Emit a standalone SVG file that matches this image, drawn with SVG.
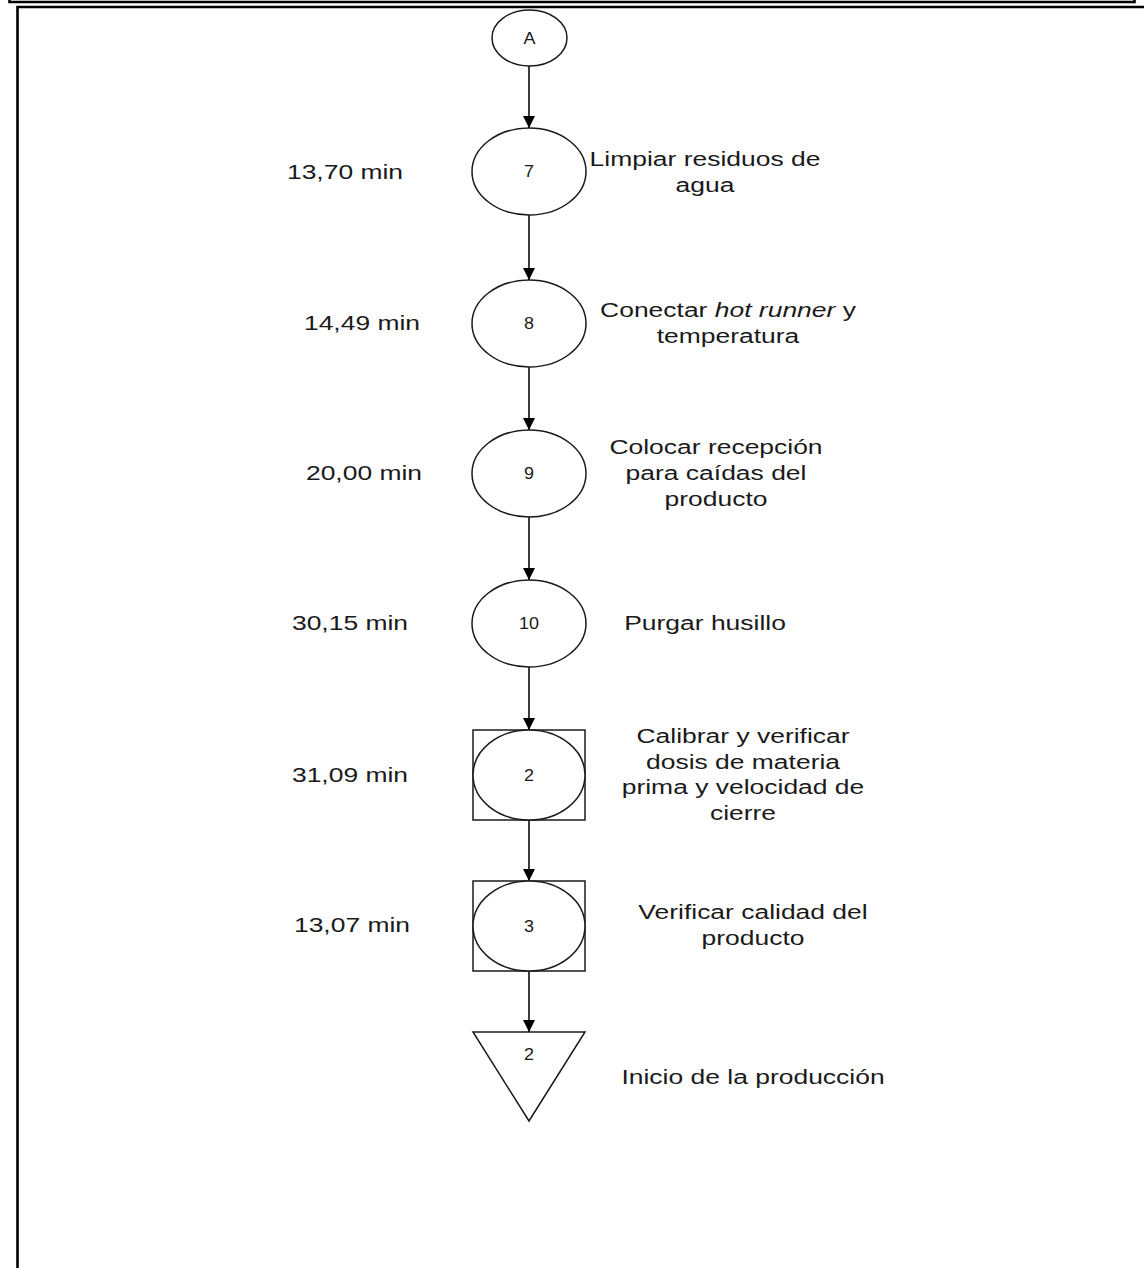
<svg xmlns="http://www.w3.org/2000/svg" width="1144" height="1268" viewBox="0 0 1144 1268">
<style>
.sh{fill:#fff;stroke:#1a1a1a;stroke-width:1.5}
.fr{fill:none;stroke:#000;stroke-width:2.6}
.t{font-family:"Liberation Sans",Arial,sans-serif;font-size:21px;fill:#1a1a1a;text-anchor:middle}
.n{font-family:"Liberation Sans",Arial,sans-serif;font-size:16px;fill:#1a1a1a;text-anchor:middle}
.c{stroke:#1a1a1a;stroke-width:1.7;fill:none;marker-end:url(#ah)}
</style>
<defs>
<marker id="ah" viewBox="0 0 10 10" refX="10" refY="5" markerWidth="12" markerHeight="12" markerUnits="userSpaceOnUse" orient="auto">
<path d="M0,0 L10,5 L0,10 z" fill="#000"/>
</marker>
</defs>
<rect width="1144" height="1268" fill="#fff"/>
<g id="frame">
<path class="fr" d="M9.5,0 V2 H1134.5 V0"/>
<path class="fr" d="M17.5,1268 V7 H1144"/>
</g>
<g id="connectors">
<line class="c" x1="529" y1="66" x2="529" y2="128"/>
<line class="c" x1="529" y1="215" x2="529" y2="280"/>
<line class="c" x1="529" y1="367" x2="529" y2="430"/>
<line class="c" x1="529" y1="517" x2="529" y2="580"/>
<line class="c" x1="529" y1="667" x2="529" y2="730"/>
<line class="c" x1="529" y1="820" x2="529" y2="881"/>
<line class="c" x1="529" y1="971" x2="529" y2="1032"/>
</g>
<g id="nodeA">
<ellipse class="sh" cx="529.5" cy="38" rx="37.5" ry="28"/>
<text class="n" transform="matrix(1.12 0 0 1 529.5 44)">A</text>
</g>
<g id="node7">
<ellipse class="sh" cx="529" cy="171.5" rx="57" ry="43.5"/>
<text class="n" transform="matrix(1.12 0 0 1 529 177)">7</text>
<text class="t" transform="matrix(1.26 0 0 1 345 179)">13,70 min</text>
<text class="t" transform="matrix(1.26 0 0 1 705 166)"><tspan x="0" y="0">Limpiar residuos de</tspan><tspan x="0" y="26">agua</tspan></text>
</g>
<g id="node8">
<ellipse class="sh" cx="529" cy="323.5" rx="57" ry="43.5"/>
<text class="n" transform="matrix(1.12 0 0 1 529 329)">8</text>
<text class="t" transform="matrix(1.26 0 0 1 362 330)">14,49 min</text>
<text class="t" transform="matrix(1.26 0 0 1 728 317)"><tspan x="0" y="0">Conectar <tspan font-style="italic">hot runner</tspan> y</tspan><tspan x="0" y="26">temperatura</tspan></text>
</g>
<g id="node9">
<ellipse class="sh" cx="529" cy="473.5" rx="57" ry="43.5"/>
<text class="n" transform="matrix(1.12 0 0 1 529 479)">9</text>
<text class="t" transform="matrix(1.26 0 0 1 364 480)">20,00 min</text>
<text class="t" transform="matrix(1.26 0 0 1 716 454)"><tspan x="0" y="0">Colocar recepción</tspan><tspan x="0" y="26">para caídas del</tspan><tspan x="0" y="52">producto</tspan></text>
</g>
<g id="node10">
<ellipse class="sh" cx="529" cy="623.5" rx="57" ry="43.5"/>
<text class="n" transform="matrix(1.12 0 0 1 529 629)">10</text>
<text class="t" transform="matrix(1.26 0 0 1 350 630)">30,15 min</text>
<text class="t" transform="matrix(1.26 0 0 1 705 630)">Purgar husillo</text>
</g>
<g id="insp2">
<rect class="sh" x="473" y="730" width="112" height="90"/>
<ellipse class="sh" cx="529" cy="775" rx="56" ry="45"/>
<text class="n" transform="matrix(1.12 0 0 1 529 781)">2</text>
<text class="t" transform="matrix(1.26 0 0 1 350 782)">31,09 min</text>
<text class="t" transform="matrix(1.26 0 0 1 743 743)"><tspan x="0" y="0">Calibrar y verificar</tspan><tspan x="0" y="25.7">dosis de materia</tspan><tspan x="0" y="51.4">prima y velocidad de</tspan><tspan x="0" y="77">cierre</tspan></text>
</g>
<g id="insp3">
<rect class="sh" x="473" y="881" width="112" height="90"/>
<ellipse class="sh" cx="529" cy="926" rx="56" ry="45"/>
<text class="n" transform="matrix(1.12 0 0 1 529 932)">3</text>
<text class="t" transform="matrix(1.26 0 0 1 352 932)">13,07 min</text>
<text class="t" transform="matrix(1.26 0 0 1 753 919)"><tspan x="0" y="0">Verificar calidad del</tspan><tspan x="0" y="26">producto</tspan></text>
</g>
<g id="store2">
<polygon class="sh" points="473,1032 585,1032 529,1121"/>
<text class="n" transform="matrix(1.12 0 0 1 529 1060)">2</text>
<text class="t" transform="matrix(1.26 0 0 1 753 1084)">Inicio de la producción</text>
</g>
</svg>
